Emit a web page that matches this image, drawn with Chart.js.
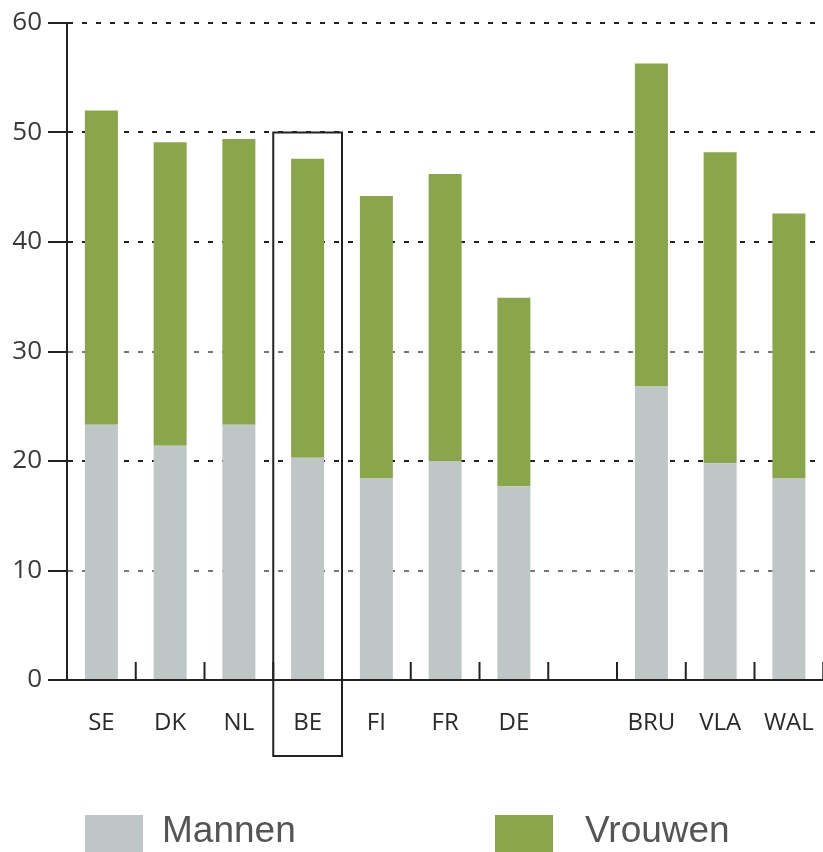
<!DOCTYPE html>
<html lang="nl">
<head>
    <meta charset="UTF-8">
    <title>Mannen en vrouwen</title>
    <script src="https://cdn.jsdelivr.net/npm/chart.js"></script>
    <style>
        body {
            margin: 0;
            background: #fff;
            overflow: hidden;
        }
        .wrap {
            position: relative;
            width: 843px;
            height: 852px;
        }
        #legend {
            position: absolute;
            left: 0;
            top: 815px;
            width: 823px;
            font-family: "Liberation Sans", Arial, sans-serif;
            font-size: 37px;
            color: #555;
        }
        .item {
            position: absolute;
            top: 0;
        }
        .item span.box {
            position: absolute;
            top: 0;
            width: 58px;
            height: 58px;
        }
        .item span.txt {
            position: absolute;
            top: -6px;
            white-space: nowrap;
        }
    </style>
</head>
<body>
    <div class="wrap">
        <canvas id="chart" width="843" height="852"></canvas>
        <div id="legend"></div>
    </div>

    <script>
        const categories = ['SE', 'DK', 'NL', 'BE', 'FI', 'FR', 'DE', '', 'BRU', 'VLA', 'WAL'];
        const mannen = [23.3, 21.4, 23.3, 20.3, 18.4, 20.0, 17.7, null, 26.8, 19.8, 18.4];
        const vrouwen = [28.7, 27.7, 26.1, 27.3, 25.8, 26.2, 17.2, null, 29.5, 28.4, 24.2];
        const yTicks = [0, 10, 20, 30, 40, 50, 60];
        const highlight = 'BE';

        const grey = '#bfc6c6';
        const green = '#8aa64b';
        const ink = '#222';

        // small tick marks pointing up from the x axis, at category boundaries
        const upTicks = {
            id: 'upTicks',
            afterDatasetsDraw(chart) {
                const x = chart.scales.x, ctx = chart.ctx;
                const bottom = chart.chartArea.bottom;
                const w = x.getPixelForValue(1) - x.getPixelForValue(0);
                ctx.save();
                ctx.strokeStyle = ink;
                ctx.lineWidth = 2;
                for (let i = 1; i <= categories.length; i++) {
                    const px = x.getPixelForValue(i) - w / 2;
                    ctx.beginPath();
                    ctx.moveTo(px, bottom);
                    ctx.lineTo(px, bottom - 18);
                    ctx.stroke();
                }
                ctx.restore();
            }
        };

        // frame around the highlighted country
        const frame = {
            id: 'frame',
            afterDraw(chart) {
                const x = chart.scales.x, y = chart.scales.y, ctx = chart.ctx;
                const i = categories.indexOf(highlight);
                const w = x.getPixelForValue(1) - x.getPixelForValue(0);
                const cx = x.getPixelForValue(i);
                ctx.save();
                ctx.strokeStyle = ink;
                ctx.lineWidth = 2;
                ctx.strokeRect(cx - w / 2, y.getPixelForValue(50), w, chart.chartArea.bottom + 76 - y.getPixelForValue(50));
                ctx.restore();
            }
        };

        const chart = new Chart(document.getElementById('chart'), {
            type: 'bar',
            data: {
                labels: categories,
                datasets: [
                    { label: 'Mannen', data: mannen, backgroundColor: grey },
                    { label: 'Vrouwen', data: vrouwen, backgroundColor: green }
                ]
            },
            options: {
                responsive: false,
                animation: false,
                events: [],
                categoryPercentage: 0.48,
                barPercentage: 1,
                layout: { padding: { top: 23, right: 4, left: 0, bottom: 0 } },
                plugins: {
                    legend: { display: false },
                    tooltip: { enabled: false }
                },
                scales: {
                    x: {
                        stacked: true,
                        afterFit: s => { s.height = 172; },
                        grid: { display: false, drawTicks: false },
                        border: { display: true, color: ink, width: 2 },
                        ticks: {
                            padding: 29,
                            color: '#2a2a2a',
                            font: { family: '"Open Sans"', size: 24 }
                        }
                    },
                    y: {
                        stacked: true,
                        min: 0,
                        max: 60,
                        afterFit: s => { s.width = 67; },
                        afterBuildTicks: s => { s.ticks = yTicks.map(v => ({ value: v })); },
                        border: { display: true, color: ink, width: 2, dash: [5, 9] },
                        grid: {
                            color: c => (c.tick.value === 10 || c.tick.value === 30) ? '#777' : ink,
                            lineWidth: 2,
                            tickLength: 19,
                            tickColor: ink,
                            tickBorderDash: [],
                            tickWidth: 2
                        },
                        ticks: {
                            padding: 6,
                            color: '#3a3a3a',
                            font: { family: '"Open Sans"', size: 26 }
                        }
                    }
                }
            },
            plugins: [upTicks, frame]
        });

        // legend below the chart
        const legendPos = [{ box: 85, txt: 162 }, { box: 495, txt: 585 }];
        const legend = document.getElementById('legend');
        chart.data.datasets.forEach((ds, i) => {
            const item = document.createElement('div');
            item.className = 'item';
            item.innerHTML = `<span class="box" style="left:${legendPos[i].box}px;background:${ds.backgroundColor}"></span>` +
                             `<span class="txt" style="left:${legendPos[i].txt}px">${ds.label}</span>`;
            legend.appendChild(item);
        });
    </script>
</body>
</html>
